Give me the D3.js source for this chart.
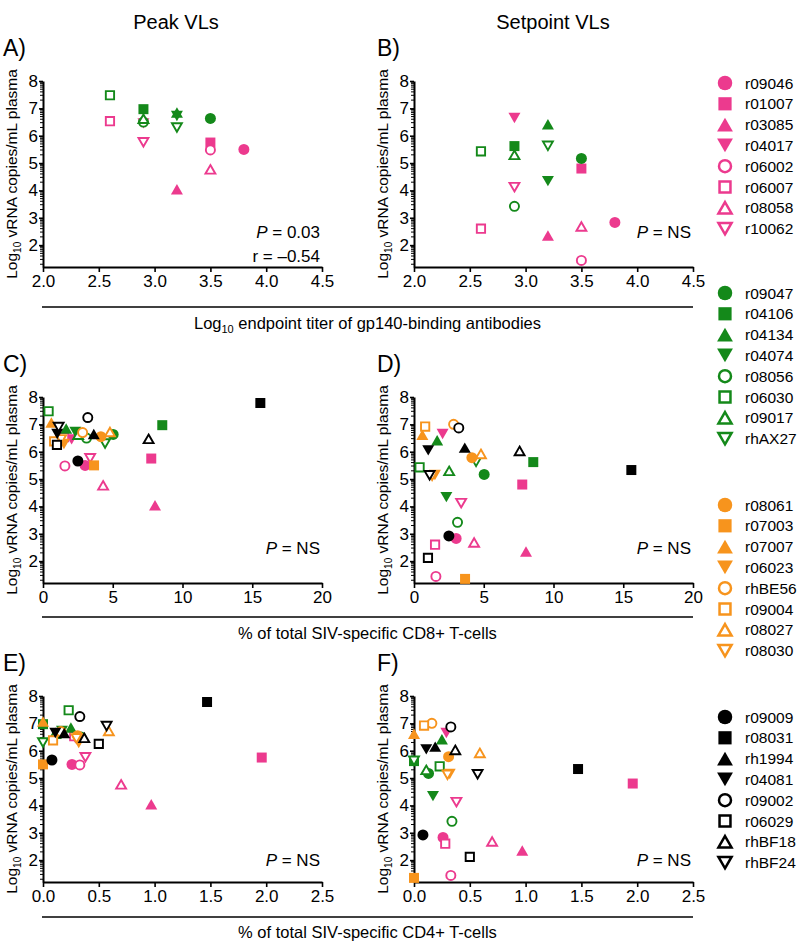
<!DOCTYPE html>
<html><head><meta charset="utf-8">
<script src="https://cdn.jsdelivr.net/npm/d3@7"></script>
<style>
body{margin:0;background:#fff}
svg{font-family:"Liberation Sans",Arial,Helvetica,sans-serif;display:block}
</style>
</head><body>
<svg id="chart" width="800" height="943"></svg>
<script>
// ---------------- DATA ----------------
const animals = [
  "r09046","r01007","r03085","r04017","r06002","r06007","r08058","r10062",
  "r09047","r04106","r04134","r04074","r08056","r06030","r09017","rhAX27",
  "r08061","r07003","r07007","r06023","rhBE56","r09004","r08027","r08030",
  "r09009","r08031","rh1994","r04081","r09002","r06029","rhBF18","rhBF24"
];
// Log10 endpoint titer of gp140-binding antibodies (only first 16 animals)
const antibodyTiter = [
  3.8, 3.5, 3.2, 2.9, 3.5, 2.6, 3.5, 2.9,
  3.5, 2.9, 3.2, 3.2, 2.9, 2.6, 2.9, 3.2,
  null,null,null,null,null,null,null,null,
  null,null,null,null,null,null,null,null
];
// % of total SIV-specific CD8+ T-cells
const cd8Pct = [
  3.02, 7.76, 8.03, 2.05, 1.57, 1.51, 4.31, 3.38,
  5.03, 8.55, 1.66, 2.32, 3.12, 0.40, 2.52, 4.45,
  4.15, 3.66, 0.60, 1.50, 2.84, 0.80, 4.80, 1.30,
  2.50, 15.58, 3.64, 1.02, 3.21, 1.00, 7.57, 1.12
];
// % of total SIV-specific CD4+ T-cells
const cd4Pct = [
  0.26, 1.96, 0.97, 0.29, 0.33, 0.28, 0.70, 0.38,
  0.13, 0.00, 0.25, 0.17, 0.34, 0.23, 0.11, 0.00,
  0.31, 0.00, 0.00, 0.32, 0.16, 0.09, 0.59, 0.30,
  0.08, 1.47, 0.19, 0.11, 0.33, 0.50, 0.37, 0.57
];
// Log10 vRNA copies/mL plasma
const peakVL = [
  5.50, 5.75, 4.04, 6.45, 5.48, 6.53, 4.77, 5.76,
  6.63, 6.97, 6.85, 6.72, 6.50, 7.48, 6.62, 6.30,
  6.55, 5.50, 7.07, 6.28, 6.70, 6.38, 6.72, 6.45,
  5.66, 7.78, 6.65, 6.65, 7.25, 6.25, 6.47, 6.90
];
const setpointVL = [
  2.83, 4.80, 2.35, 6.65, 1.44, 2.60, 2.68, 4.12,
  5.17, 5.62, 6.42, 4.34, 3.42, 5.43, 5.30, 5.63,
  5.78, 1.35, 6.62, 5.15, 7.00, 6.92, 5.92, 5.12,
  2.92, 5.33, 6.15, 6.05, 6.87, 2.12, 6.03, 5.14
];
const titerTicks = [2.0, 2.5, 3.0, 3.5, 4.0, 4.5];
const cd8Ticks = [0, 5, 10, 15, 20];
const cd4Ticks = [0.0, 0.5, 1.0, 1.5, 2.0, 2.5];
const vlTicks = [2, 3, 4, 5, 6, 7, 8];
const columnTitles = ["Peak VLs", "Setpoint VLs"];
const panelLetters = ["A)", "B)", "C)", "D)", "E)", "F)"];
const xTitles = [
  ["Log", "10", " endpoint titer of gp140-binding antibodies"],
  ["% of total SIV-specific CD8+ T-cells"],
  ["% of total SIV-specific CD4+ T-cells"]
];
const statP = ["0.03", "NS", "NS", "NS", "NS", "NS"];
const statR = ["–0.54", null, null, null, null, null];

// ---------------- STYLE / LAYOUT ----------------
const groupColors = ["#EC3A8E", "#14891A", "#F7941D", "#000000"];
const shapeKinds = ["circle","square","up","down","circle","square","up","down"];
const colX = [{x0:43, x1:322}, {x0:414, x1:693}];
const rowY = [{top:81, bot:267, stat:157}, {top:397, bot:583, stat:157}, {top:696, bot:882, stat:170}];
const svg = d3.select("#chart");
const FONT = 17;

function shapePath(kind, k) {
  const p = d3.path();
  if (kind === "circle") { p.arc(0, 0, 5.5*k, 0, 2*Math.PI); p.closePath(); }
  else if (kind === "square") { const s = 5.0*k; p.rect(-s, -s, 2*s, 2*s); }
  else if (kind === "up") { const w=6.0*k, h=5.2*k; p.moveTo(0,-h); p.lineTo(w,h); p.lineTo(-w,h); p.closePath(); }
  else { const w=6.0*k, h=5.2*k; p.moveTo(0,h); p.lineTo(w,-h); p.lineTo(-w,-h); p.closePath(); }
  return p.toString();
}
function drawMarker(g, i, x, y, k) {
  const color = groupColors[Math.floor(i/8)];
  const open = (i % 8) >= 4;
  const kind = shapeKinds[i % 8];
  const sw = 1.9*k;
  g.append("path")
    .attr("transform", `translate(${x},${y})`)
    .attr("d", shapePath(kind, open ? k - (sw/2)/5.5 : k))
    .attr("fill", open ? "#fff" : color)
    .attr("stroke", open ? color : "none")
    .attr("stroke-width", open ? sw : 0);
}

// Column titles
columnTitles.forEach((t, c) => {
  svg.append("text").attr("x", c===0 ? 176 : 553).attr("y", 29)
    .attr("text-anchor","middle").attr("font-size", 20).text(t);
});

const panels = [
  {xs: antibodyTiter, ys: peakVL, dom:[2,4.5], ticks: titerTicks, fmt: d3.format(".1f")},
  {xs: antibodyTiter, ys: setpointVL, dom:[2,4.5], ticks: titerTicks, fmt: d3.format(".1f")},
  {xs: cd8Pct, ys: peakVL, dom:[0,20], ticks: cd8Ticks, fmt: d3.format("d")},
  {xs: cd8Pct, ys: setpointVL, dom:[0,20], ticks: cd8Ticks, fmt: d3.format("d")},
  {xs: cd4Pct, ys: peakVL, dom:[0,2.5], ticks: cd4Ticks, fmt: d3.format(".1f")},
  {xs: cd4Pct, ys: setpointVL, dom:[0,2.5], ticks: cd4Ticks, fmt: d3.format(".1f")}
];

panels.forEach((pn, idx) => {
  const r = Math.floor(idx/2), c = idx % 2;
  const X = d3.scaleLinear().domain(pn.dom).range([colX[c].x0, colX[c].x1]);
  const Y = d3.scaleLinear().domain([1.2, 8]).range([rowY[r].bot, rowY[r].top]);
  const g = svg.append("g");

  // Panel letter
  g.append("text").attr("x", c===0 ? 3 : 377).attr("y", rowY[r].top - 33)
    .attr("dominant-baseline","central").attr("font-size", 23).text(panelLetters[idx]);

  // Y axis title
  const yt = g.append("text")
    .attr("transform", `translate(${colX[c].x0 - 26},${(rowY[r].top + rowY[r].bot)/2}) rotate(-90)`)
    .attr("text-anchor","middle").attr("font-size", 15.5);
  yt.append("tspan").text("Log");
  yt.append("tspan").attr("font-size", 10).attr("dy", 4).text("10");
  yt.append("tspan").attr("dy", -4).text(" vRNA copies/mL plasma");

  // X axis
  const xa = g.append("g").attr("transform", `translate(0,${rowY[r].bot})`)
    .call(d3.axisBottom(X).tickValues(pn.ticks).tickFormat(pn.fmt).tickSize(5).tickPadding(3).tickSizeOuter(0));
  xa.select(".domain").attr("stroke-width", 2);
  xa.selectAll(".tick line").attr("stroke-width", 1.6);
  xa.selectAll("text").attr("font-size", FONT).attr("font-family", "Liberation Sans, Arial, sans-serif");

  // Y axis
  const ya = g.append("g").attr("transform", `translate(${colX[c].x0},0)`)
    .call(d3.axisLeft(Y).tickValues(vlTicks).tickFormat(d3.format("d")).tickSize(4).tickPadding(1).tickSizeOuter(0));
  ya.select(".domain").attr("stroke-width", 2);
  ya.selectAll(".tick line").attr("stroke-width", 1.6);
  ya.selectAll("text").attr("font-size", FONT).attr("font-family", "Liberation Sans, Arial, sans-serif");
  // minor log ticks
  const minor = [];
  for (let d = 1; d < 8; d++) for (let m = 2; m <= 9; m++) {
    const v = d + Math.log10(m);
    if (v >= 1.2 && v <= 8) minor.push(v);
  }
  g.selectAll(null).data(minor).enter().append("line")
    .attr("x1", colX[c].x0 - 3).attr("x2", colX[c].x0)
    .attr("y1", d => Y(d)).attr("y2", d => Y(d))
    .attr("stroke", "#000").attr("stroke-width", 1);

  // Points
  const pg = g.append("g");
  animals.forEach((a, i) => {
    const xv = pn.xs[i], yv = pn.ys[i];
    if (xv === null || xv === undefined || yv === null) return;
    drawMarker(pg, i, X(xv), Y(yv), 1);
  });

  // Stats
  const pt = g.append("text").attr("x", colX[c].x1 - 2).attr("y", rowY[r].top + rowY[r].stat)
    .attr("text-anchor","end").attr("font-size", FONT);
  pt.append("tspan").attr("font-style","italic").text("P");
  pt.append("tspan").text(" = " + statP[idx]);
  if (statR[idx]) {
    g.append("text").attr("x", colX[c].x1 - 2).attr("y", rowY[r].top + rowY[r].stat + 24)
      .attr("text-anchor","end").attr("font-size", FONT).text("r = " + statR[idx]);
  }
});

// Row separators and x titles
const sepY = [307, 617, 917];
const titleY = [329, 639, 938];
sepY.forEach((y, r) => {
  svg.append("line").attr("x1", 42).attr("x2", 693).attr("y1", y).attr("y2", y)
    .attr("stroke", "#000").attr("stroke-width", 1.5);
  const t = svg.append("text").attr("x", 367.5).attr("y", titleY[r])
    .attr("text-anchor","middle").attr("font-size", 16.5);
  const parts = xTitles[r];
  if (parts.length === 3) {
    t.append("tspan").text(parts[0]);
    t.append("tspan").attr("font-size", 11).attr("dy", 4).text(parts[1]);
    t.append("tspan").attr("dy", -4).text(parts[2]);
  } else t.text(parts[0]);
});

// Legend
const legendStart = [83, 293, 505, 717];
const lg = svg.append("g");
animals.forEach((a, i) => {
  const grp = Math.floor(i/8), j = i % 8;
  const y = legendStart[grp] + j * 20.8;
  drawMarker(lg, i, 725, y, 1.32);
  lg.append("text").attr("x", 745).attr("y", y).attr("dominant-baseline","central")
    .attr("font-size", 15.5).text(a);
});
</script>
</body></html>
